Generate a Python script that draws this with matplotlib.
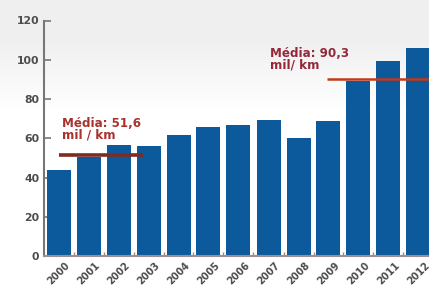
import matplotlib
matplotlib.use("Agg")
import matplotlib.pyplot as plt
import numpy as np

years = ["2000", "2001", "2002", "2003", "2004", "2005", "2006",
         "2007", "2008", "2009", "2010", "2011", "2012"]
values = [44, 50.5, 56.5, 56, 61.5, 65.8, 67, 69.5, 60, 68.8, 89, 99.5, 106]
avg1_label = "Média: 51,6\nmil / km"
avg1_value = 51.6
avg2_label = "Média: 90,3\nmil/ km"
avg2_value = 90.3
yticks = [0, 20, 40, 60, 80, 100, 120]

W, H = 429, 289
fig = plt.figure(figsize=(W / 100, H / 100), dpi=100)
fig.patch.set_facecolor("white")

# soft background gradient (gray at the top fading to white)
bg = fig.add_axes([0, 0, 1, 1], zorder=-5)
n = 289
rows = np.ones(n)
rows[:40] = 0.94
rows[40:110] = np.linspace(0.94, 1.0, 70)
img = np.repeat(rows[:, None], 2, axis=1)
bg.imshow(np.dstack([img, img, img]), aspect="auto", extent=[0, 1, 0, 1],
          origin="upper", vmin=0, vmax=1)
bg.set_axis_off()

left = 43.5 / W
right = 433.5 / W
bottom = (H - 256) / H
top = (H - 20.5) / H
ax = fig.add_axes([left, bottom, right - left, top - bottom])
ax.patch.set_alpha(0)

x = np.arange(len(years))
ax.bar(x, values, width=0.8, color="#0c5a9c", zorder=2)

ax.set_xlim(-0.5, len(years) - 0.5)
ax.set_ylim(0, 120)
ax.set_yticks(yticks)
ax.set_yticklabels([str(t) for t in yticks], fontsize=7.8, fontweight="bold",
                   color="#4d4d4d")
ax.set_xticks(x)
ax.set_xticklabels(years, rotation=45, ha="center", va="top", fontsize=7,
                   fontweight="bold", color="#4d4d4d")
ax.tick_params(axis="y", direction="in", length=5, width=1.2, color="#777777",
               pad=3)
ax.tick_params(axis="x", length=0, pad=3)
ax.set_xticks(np.arange(-0.5, len(years), 1)[1:], minor=True)
ax.tick_params(axis="x", which="minor", direction="in", length=3, width=1,
               color="#c08060")

for s in ["top", "right"]:
    ax.spines[s].set_visible(False)
ax.spines["left"].set_color("#777777")
ax.spines["left"].set_linewidth(1.5)
ax.spines["bottom"].set_color("#9a9090")
ax.spines["bottom"].set_linewidth(1.5)

ax.plot([0.0, 2.82], [avg1_value, avg1_value], color="#7e2b22", lw=2.6,
        zorder=3, solid_capstyle="butt")
ax.plot([8.95, 12.6], [avg2_value, avg2_value], color="#c23a1c", lw=1.8,
        zorder=3, solid_capstyle="butt")

ax.text(0.1, 71, avg1_label, color="#a8322e", fontsize=8.6, fontweight="bold",
        va="top", ha="left", linespacing=0.88)
ax.text(7.05, 106.5, avg2_label, color="#93283a", fontsize=8.6,
        fontweight="bold", va="top", ha="left", linespacing=0.88)

fig.savefig("out.png", dpi=100)
